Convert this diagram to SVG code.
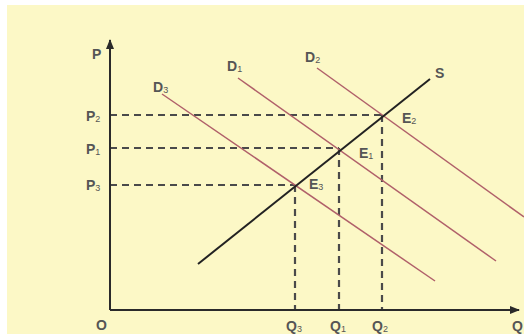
<svg xmlns="http://www.w3.org/2000/svg" width="524" height="334" viewBox="0 0 524 334">
<defs>
<style>
.lbl{font-family:"Liberation Sans",Arial,sans-serif;font-size:14px;font-weight:bold;fill:#555}
.sub{font-size:9px;font-weight:normal}
.dash{stroke:#4a4a4a;stroke-width:2.2;stroke-dasharray:7 5;fill:none}
.dem{stroke:#b0606a;stroke-width:1.5;fill:none}
.axis{stroke:#2a2a2a;stroke-width:2;fill:none}
</style>
<marker id="arr" markerWidth="10" markerHeight="8" refX="9" refY="4" orient="auto" markerUnits="userSpaceOnUse">
<path d="M0,0 L10,4 L0,8 z" fill="#2a2a2a"/>
</marker>
</defs>
<rect width="524" height="334" fill="#ffffff"/>
<rect x="7" y="5" width="517" height="329" fill="#fcf8c6"/>
<g id="connectors">
<line class="dash" x1="110" y1="115" x2="382" y2="115"/>
<line class="dash" x1="110" y1="148" x2="339" y2="148"/>
<line class="dash" x1="110" y1="185" x2="295" y2="185"/>
<line class="dash" x1="382" y1="115" x2="382" y2="310"/>
<line class="dash" x1="339" y1="148" x2="339" y2="310"/>
<line class="dash" x1="295" y1="185" x2="295" y2="310"/>
<line class="dem" x1="162" y1="94" x2="435" y2="281"/>
<line class="dem" x1="238" y1="78" x2="496" y2="261"/>
<line class="dem" x1="317" y1="68" x2="524" y2="217"/>
<line x1="198" y1="264" x2="430" y2="79" stroke="#222" stroke-width="2"/>
</g>
<g id="axes">
<line class="axis" x1="110" y1="310" x2="110" y2="40" marker-end="url(#arr)"/>
<line class="axis" x1="110" y1="310" x2="519" y2="310" marker-end="url(#arr)"/>
</g>
<g id="labels">
<text class="lbl" x="92" y="59">P</text>
<text class="lbl" x="96" y="330">O</text>
<text class="lbl" x="512" y="331">Q</text>
<text class="lbl" x="86" y="121">P<tspan class="sub" dy="1">2</tspan></text>
<text class="lbl" x="86" y="154">P<tspan class="sub" dy="1">1</tspan></text>
<text class="lbl" x="86" y="190">P<tspan class="sub" dy="1">3</tspan></text>
<text class="lbl" x="286" y="331">Q<tspan class="sub" dy="1">3</tspan></text>
<text class="lbl" x="330" y="331">Q<tspan class="sub" dy="1">1</tspan></text>
<text class="lbl" x="372" y="331">Q<tspan class="sub" dy="1">2</tspan></text>
<text class="lbl" x="153" y="92">D<tspan class="sub" dy="1">3</tspan></text>
<text class="lbl" x="227" y="71">D<tspan class="sub" dy="1">1</tspan></text>
<text class="lbl" x="305" y="62">D<tspan class="sub" dy="1">2</tspan></text>
<text class="lbl" x="435" y="78">S</text>
<text class="lbl" x="402" y="123">E<tspan class="sub" dy="1">2</tspan></text>
<text class="lbl" x="359" y="158">E<tspan class="sub" dy="1">1</tspan></text>
<text class="lbl" x="309" y="189">E<tspan class="sub" dy="1">3</tspan></text>
</g>
</svg>
